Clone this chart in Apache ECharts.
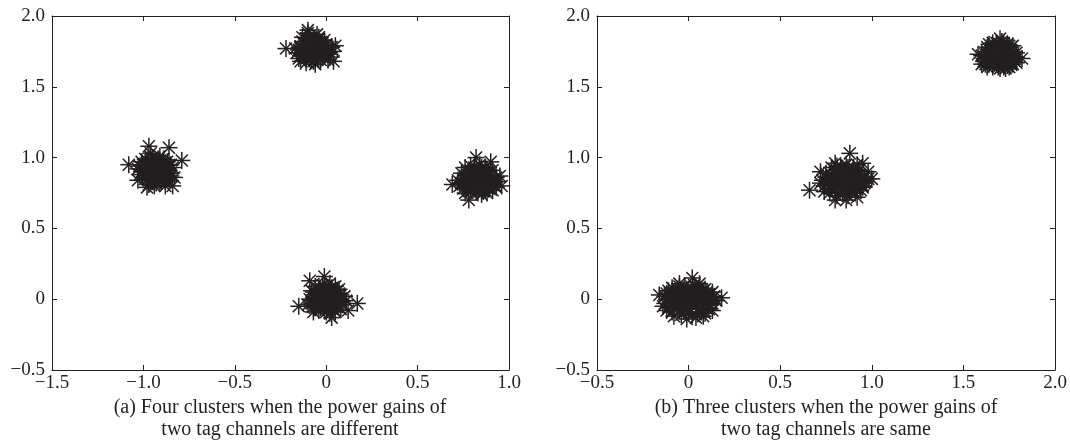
<!DOCTYPE html>
<html>
<head>
<meta charset="utf-8">
<title>Tag channel clusters</title>
<script src="https://cdn.jsdelivr.net/npm/echarts@6/dist/echarts.min.js"></script>
<style>
  html, body { margin: 0; padding: 0; background: #ffffff; }
  #chart { width: 1070px; height: 445px; }
</style>
</head>
<body>
<div id="chart"></div>
<script>
// Axis settings for both panels
const xTicksA = { min: -1.5, max: 1.0, step: 0.5 };
const xTicksB = { min: -0.5, max: 2.0, step: 0.5 };
const yTicks = { min: -0.5, max: 2.0, step: 0.5 };

const captionA = ['(a) Four clusters when the power gains of', 'two tag channels are different'];
const captionB = ['(b) Three clusters when the power gains of', 'two tag channels are same'];

// Panel (a): received samples, four clusters
const clusterA1 = [
  [-0.07,1.77],[-0.10,1.80],[-0.04,1.74],[-0.12,1.75],[-0.02,1.79],[-0.08,1.72],[-0.06,1.83],[-0.14,1.78],
  [0.00,1.76],[-0.11,1.70],[-0.03,1.69],[-0.09,1.86],[-0.05,1.80],[-0.13,1.82],[0.02,1.73],[-0.16,1.74],
  [-0.07,1.68],[-0.01,1.83],[-0.10,1.76],[-0.04,1.77],[-0.08,1.79],[-0.12,1.71],[0.03,1.78],[-0.06,1.73],
  [-0.15,1.70],[-0.02,1.71],[-0.09,1.84],[-0.05,1.87],[-0.11,1.67],[0.01,1.69],[-0.13,1.85],[-0.03,1.81],
  [-0.07,1.75],[-0.17,1.77],[0.04,1.75],[-0.10,1.88],[-0.06,1.66],[-0.14,1.68],[0.00,1.80],[-0.08,1.81],
  [-0.05,1.76],[-0.09,1.74],[-0.11,1.78],[-0.03,1.76],[-0.07,1.80],[-0.13,1.76],[-0.01,1.74],[-0.08,1.70],
  [-0.04,1.71],[-0.10,1.82],[-0.06,1.78],[-0.12,1.73],[-0.02,1.77],[-0.09,1.77],[-0.05,1.83],[-0.14,1.72],
  [0.01,1.78],[-0.07,1.72],[-0.11,1.84],[-0.03,1.73],[-0.08,1.76],[-0.06,1.69],[-0.12,1.80],[-0.04,1.85],
  [-0.10,1.73],[-0.02,1.81],[-0.15,1.76],[0.02,1.71],[-0.08,1.83],[-0.06,1.75],
  [-0.22,1.77],[-0.10,1.90],[0.05,1.79],[0.04,1.68]
];
const clusterA2 = [
  [-0.93,0.92],[-0.96,0.95],[-0.90,0.89],[-0.98,0.90],[-0.88,0.94],[-0.94,0.86],[-0.91,0.98],[-1.00,0.93],
  [-0.86,0.91],[-0.97,0.84],[-0.89,0.85],[-0.95,1.00],[-0.92,0.95],[-1.01,0.97],[-0.85,0.87],[-1.02,0.88],
  [-0.93,0.82],[-0.87,0.97],[-0.96,0.91],[-0.90,0.93],[-0.94,0.96],[-0.99,0.85],[-0.84,0.93],[-0.92,0.88],
  [-1.03,0.92],[-0.88,0.83],[-0.95,0.98],[-0.91,1.01],[-0.97,0.81],[-0.86,0.84],[-0.99,0.99],[-0.89,0.96],
  [-0.93,0.90],[-1.00,0.90],[-0.85,0.95],[-0.96,0.87],[-0.91,0.83],[-0.94,0.80],[-0.87,0.89],[-0.98,0.96],
  [-0.92,0.91],[-0.95,0.93],[-0.89,0.91],[-0.97,0.93],[-0.91,0.87],[-0.94,0.89],[-0.90,0.96],[-0.98,0.88],
  [-0.88,0.88],[-0.96,0.97],[-0.93,0.85],[-0.87,0.92],[-1.00,0.95],[-0.92,0.99],[-0.95,0.83],[-0.89,0.99],
  [-1.01,0.90],[-0.86,0.95],[-0.97,0.86],[-0.90,0.84],[-0.94,0.94],[-0.91,0.90],[-0.99,0.92],[-0.85,0.89],
  [-0.93,0.97],[-0.96,0.89],[-0.88,0.86],[-1.02,0.94],[-0.92,0.84],[-0.98,0.98],
  [-0.98,0.79],[-0.88,0.80],[-1.03,0.84],[-0.96,1.03],
  [-1.08,0.95],[-0.97,1.08],[-0.86,1.07],[-0.79,0.98],[-0.84,0.80],[-0.83,0.86]
];
const clusterA3 = [
  [0.83,0.84],[0.80,0.87],[0.86,0.81],[0.78,0.82],[0.88,0.86],[0.82,0.78],[0.85,0.91],[0.75,0.85],
  [0.90,0.83],[0.79,0.76],[0.87,0.77],[0.81,0.93],[0.84,0.88],[0.74,0.89],[0.92,0.80],[0.73,0.80],
  [0.83,0.75],[0.89,0.90],[0.80,0.84],[0.86,0.85],[0.82,0.89],[0.77,0.78],[0.93,0.86],[0.84,0.80],
  [0.72,0.84],[0.88,0.75],[0.79,0.91],[0.84,0.95],[0.76,0.75],[0.91,0.77],[0.76,0.93],[0.87,0.93],
  [0.83,0.82],[0.78,0.87],[0.94,0.83],[0.81,0.80],[0.85,0.74],[0.90,0.88],[0.75,0.82],[0.86,0.89],
  [0.82,0.83],[0.85,0.86],[0.80,0.81],[0.87,0.83],[0.79,0.85],[0.84,0.86],[0.81,0.88],[0.88,0.80],
  [0.77,0.83],[0.86,0.78],[0.83,0.91],[0.76,0.87],[0.90,0.85],[0.80,0.79],[0.85,0.93],[0.74,0.82],
  [0.92,0.83],[0.78,0.89],[0.87,0.88],[0.82,0.76],[0.89,0.78],[0.84,0.84],[0.81,0.85],[0.91,0.91],
  [0.75,0.78],[0.86,0.76],[0.79,0.94],[0.93,0.79],[0.83,0.87],[0.88,0.92],
  [0.82,1.00],[0.90,0.97],[0.96,0.80],[0.78,0.70],[0.69,0.81],[0.95,0.87]
];
const clusterA4 = [
  [0.00,0.00],[-0.03,0.03],[0.03,-0.03],[-0.05,-0.02],[0.05,0.02],[-0.01,-0.06],[0.02,0.07],[-0.07,0.01],
  [0.07,-0.01],[-0.04,-0.08],[0.04,-0.07],[-0.02,0.10],[0.01,0.04],[-0.08,0.06],[0.09,-0.04],[-0.10,-0.04],
  [0.00,-0.09],[0.06,0.06],[-0.03,-0.01],[0.03,0.01],[-0.01,0.05],[-0.06,-0.06],[0.10,0.02],[0.01,-0.04],
  [-0.09,0.00],[0.05,-0.09],[-0.04,0.07],[0.02,0.11],[-0.07,-0.09],[0.08,-0.07],[-0.06,0.09],[0.05,0.09],
  [0.00,0.02],[-0.05,0.04],[0.11,-0.01],[-0.02,-0.03],[0.02,-0.10],[0.07,0.04],[-0.08,-0.03],[0.04,0.05],
  [0.01,0.01],[-0.02,0.02],[0.03,-0.01],[-0.04,-0.03],[0.04,0.03],[-0.01,-0.04],[0.02,0.05],[-0.06,0.03],
  [0.06,-0.03],[-0.03,-0.06],[0.03,-0.06],[-0.01,0.08],[0.00,0.05],[-0.07,0.05],[0.08,-0.02],[-0.08,-0.01],
  [0.01,-0.07],[0.05,0.04],[-0.05,0.00],[0.06,0.00],[-0.03,0.06],[-0.05,-0.05],[0.08,0.03],[0.00,-0.02],
  [-0.07,-0.05],[0.04,-0.05],[-0.02,0.04],[0.03,0.08],[-0.04,0.09],[0.07,0.07],
  [0.17,-0.03],[-0.15,-0.05],[-0.09,0.13],[-0.01,0.16],[0.12,-0.08],[0.03,-0.13]
];

// Panel (b): received samples, three clusters
const clusterB1 = [
  [0.00,0.00],[-0.04,0.03],[0.04,-0.03],[-0.07,-0.02],[0.07,0.02],[-0.02,-0.06],[0.02,0.06],[-0.10,0.01],
  [0.10,-0.01],[-0.05,-0.08],[0.05,-0.07],[-0.02,0.09],[0.01,0.04],[-0.11,0.06],[0.12,-0.04],[-0.13,-0.03],
  [0.00,-0.10],[0.08,0.06],[-0.03,-0.01],[0.03,0.01],[-0.01,0.05],[-0.08,-0.06],[0.14,0.02],[0.01,-0.04],
  [-0.12,0.00],[0.07,-0.09],[-0.06,0.07],[0.03,0.10],[-0.09,-0.09],[0.11,-0.07],[-0.09,0.08],[0.06,0.08],
  [0.00,0.02],[-0.06,0.04],[0.15,-0.01],[-0.03,-0.04],[0.02,-0.11],[0.10,0.05],[-0.14,-0.05],[0.05,0.04],
  [-0.04,-0.11],[0.09,-0.10],[-0.12,0.04],[0.13,0.05],
  [0.01,0.01],[-0.03,0.02],[0.03,-0.01],[-0.05,-0.03],[0.05,0.03],[-0.01,-0.04],[0.02,0.05],[-0.08,0.03],
  [0.08,-0.03],[-0.03,-0.06],[0.04,-0.05],[-0.01,0.07],[0.00,0.05],[-0.09,0.05],[0.10,-0.02],[-0.10,-0.02],
  [0.01,-0.07],[0.06,0.05],[-0.05,0.00],[0.06,0.00],[-0.03,0.06],[-0.06,-0.05],[0.11,0.03],[0.00,-0.02],
  [-0.11,-0.06],[0.06,-0.06],[-0.07,0.05],[0.04,0.08],[-0.05,0.09],[0.09,0.07],[-0.13,0.02],[0.13,-0.03],
  [-0.08,-0.12],[0.04,-0.13],[-0.01,-0.14],[0.08,-0.12],[-0.05,0.11],[0.06,0.11],[-0.12,-0.08],[0.13,-0.08],
  [0.02,0.15],[0.18,0.01],[-0.16,0.03]
];
const clusterB2 = [
  [0.85,0.84],[0.82,0.87],[0.88,0.81],[0.79,0.82],[0.91,0.86],[0.84,0.78],[0.87,0.91],[0.76,0.85],
  [0.93,0.83],[0.80,0.76],[0.89,0.77],[0.83,0.93],[0.86,0.88],[0.75,0.89],[0.95,0.80],[0.74,0.80],
  [0.85,0.75],[0.92,0.90],[0.82,0.84],[0.88,0.85],[0.84,0.89],[0.78,0.78],[0.96,0.86],[0.86,0.80],
  [0.73,0.84],[0.91,0.75],[0.80,0.91],[0.86,0.95],[0.77,0.75],[0.94,0.77],[0.78,0.93],[0.90,0.93],
  [0.85,0.82],[0.79,0.87],[0.97,0.83],[0.83,0.80],[0.87,0.73],[0.93,0.88],[0.76,0.82],[0.89,0.89],
  [0.98,0.85],[0.81,0.73],
  [0.84,0.83],[0.87,0.86],[0.82,0.81],[0.89,0.83],[0.81,0.85],[0.86,0.86],[0.83,0.88],[0.90,0.80],
  [0.79,0.83],[0.88,0.78],[0.85,0.91],[0.78,0.87],[0.92,0.85],[0.82,0.79],[0.87,0.93],[0.76,0.82],
  [0.94,0.83],[0.80,0.89],[0.89,0.88],[0.84,0.76],[0.91,0.78],[0.86,0.84],[0.83,0.85],[0.93,0.91],
  [0.77,0.78],[0.88,0.76],[0.81,0.94],[0.95,0.79],[0.85,0.87],[0.90,0.92],[0.96,0.82],[0.75,0.86],
  [0.80,0.70],[0.86,0.70],[0.92,0.72],[0.74,0.76],[0.80,0.96],[0.92,0.95],[0.98,0.90],[0.72,0.82],
  [0.66,0.77],[0.88,1.03],[0.72,0.90],[1.00,0.85],[0.95,0.96]
];
const clusterB3 = [
  [1.70,1.72],[1.67,1.75],[1.73,1.69],[1.65,1.70],[1.75,1.74],[1.69,1.66],[1.72,1.79],[1.62,1.73],
  [1.77,1.71],[1.66,1.64],[1.74,1.65],[1.68,1.81],[1.71,1.76],[1.63,1.78],[1.78,1.68],[1.61,1.68],
  [1.70,1.63],[1.76,1.78],[1.67,1.72],[1.73,1.73],[1.69,1.77],[1.64,1.66],[1.79,1.74],[1.71,1.68],
  [1.60,1.72],[1.75,1.64],[1.66,1.79],[1.71,1.82],[1.63,1.64],[1.77,1.66],[1.64,1.80],[1.74,1.80],
  [1.70,1.70],[1.65,1.75],[1.79,1.71],[1.68,1.68],[1.72,1.64],[1.76,1.76],[1.62,1.70],[1.73,1.77],
  [1.69,1.71],[1.72,1.74],[1.67,1.69],[1.74,1.71],[1.66,1.73],[1.71,1.74],[1.68,1.76],[1.75,1.68],
  [1.64,1.71],[1.73,1.66],[1.70,1.79],[1.63,1.75],[1.77,1.73],[1.67,1.67],[1.72,1.81],[1.62,1.66],
  [1.78,1.71],[1.65,1.77],[1.74,1.76],[1.69,1.64],[1.76,1.66],[1.71,1.72],[1.68,1.73],[1.77,1.79],
  [1.63,1.68],[1.73,1.63],[1.66,1.81],[1.79,1.67],[1.70,1.75],[1.75,1.79],
  [1.70,1.84],[1.82,1.70],[1.58,1.73],[1.60,1.66]
];

const INK = '#231f20';
const FONT = '"Liberation Serif", "DejaVu Serif", serif';

function tickText(v) {
  if (Math.abs(v) < 1e-9) return '0';
  const s = Math.abs(v).toFixed(1);
  return v < 0 ? '\u2212' + s : s;
}

// Asterisk marker: four crossing strokes centred on the data point
function renderStar(params, api) {
  const p = api.coord([api.value(0), api.value(1)]);
  const r = 8.5;
  const d = r * 0.7071;
  const style = { stroke: INK, lineWidth: 1.5, fill: null };
  return {
    type: 'group',
    children: [
      { type: 'line', shape: { x1: p[0] - r, y1: p[1], x2: p[0] + r, y2: p[1] }, style },
      { type: 'line', shape: { x1: p[0], y1: p[1] - r, x2: p[0], y2: p[1] + r }, style },
      { type: 'line', shape: { x1: p[0] - d, y1: p[1] - d, x2: p[0] + d, y2: p[1] + d }, style },
      { type: 'line', shape: { x1: p[0] - d, y1: p[1] + d, x2: p[0] + d, y2: p[1] - d }, style }
    ]
  };
}

function valueAxis(range, gridIndex, position, showLabels) {
  return {
    type: 'value',
    gridIndex,
    position,
    min: range.min,
    max: range.max,
    interval: range.step,
    axisLine: { show: true, onZero: false, lineStyle: { color: INK, width: 1 } },
    axisTick: { show: true, inside: true, length: 5, lineStyle: { color: INK, width: 1 } },
    axisLabel: {
      show: showLabels,
      color: INK,
      fontFamily: FONT,
      fontSize: 19,
      margin: (position === 'left') ? 7 : 4,
      formatter: tickText
    },
    splitLine: { show: false }
  };
}

function starSeries(data, xi, yi) {
  return {
    type: 'custom',
    xAxisIndex: xi,
    yAxisIndex: yi,
    renderItem: renderStar,
    data,
    clip: false,
    silent: true
  };
}

function captionGraphic(lines, cx) {
  return lines.map((t, i) => ({
    type: 'text',
    x: cx,
    y: 408 + i * 22,
    silent: true,
    style: {
      text: t,
      fill: INK,
      font: '20px ' + FONT,
      align: 'center',
      verticalAlign: 'middle',
      textAlign: 'center',
      textVerticalAlign: 'middle'
    }
  }));
}

const chart = echarts.init(document.getElementById('chart'), null, { renderer: 'canvas' });
chart.setOption({
  animation: false,
  backgroundColor: '#ffffff',
  grid: [
    { left: 52, top: 16, width: 457, height: 354 },
    { left: 597, top: 16, width: 458, height: 354 }
  ],
  xAxis: [
    valueAxis(xTicksA, 0, 'bottom', true),
    valueAxis(xTicksA, 0, 'top', false),
    valueAxis(xTicksB, 1, 'bottom', true),
    valueAxis(xTicksB, 1, 'top', false)
  ],
  yAxis: [
    valueAxis(yTicks, 0, 'left', true),
    valueAxis(yTicks, 0, 'right', false),
    valueAxis(yTicks, 1, 'left', true),
    valueAxis(yTicks, 1, 'right', false)
  ],
  series: [
    starSeries(clusterA1, 0, 0),
    starSeries(clusterA2, 0, 0),
    starSeries(clusterA3, 0, 0),
    starSeries(clusterA4, 0, 0),
    starSeries(clusterB1, 2, 2),
    starSeries(clusterB2, 2, 2),
    starSeries(clusterB3, 2, 2)
  ],
  graphic: [].concat(captionGraphic(captionA, 280), captionGraphic(captionB, 826))
});
</script>
</body>
</html>
